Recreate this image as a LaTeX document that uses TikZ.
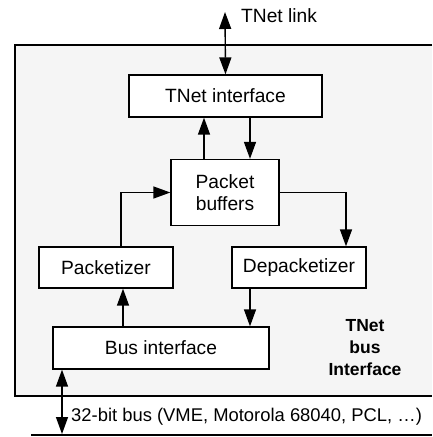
\documentclass[tikz,border=0pt]{standalone}
\usepackage{fontspec}
\setmainfont{Liberation Sans}
\usetikzlibrary{arrows.meta}
\begin{document}
\begin{tikzpicture}[x=1pt,y=-1pt,
  every node/.style={font=\fontsize{19.2}{22}\selectfont},
  blk/.style={draw=black,line width=1.3pt,fill=white,inner sep=0pt,align=center},
  conn/.style={line width=1.4pt,-{Triangle[length=17pt,width=12pt]}},
  dconn/.style={line width=1.4pt,{Triangle[length=17pt,width=12pt]}-{Triangle[length=17pt,width=12pt]}},
  lbl/.style={inner sep=0pt,align=center}]
\useasboundingbox (0,0) rectangle (432,437);
% frame
\fill[black!4] (15,45) rectangle (432,396);
\draw[line width=1.3pt] (432,45) -- (15,45) -- (15,396) -- (432,396);
% blocks
\node[blk,minimum width=193pt,minimum height=42pt] (tni) at (225.5,96) {TNet interface};
\node[blk,minimum width=108pt,minimum height=66pt] (pb) at (225,192.5) {Packet\\buffers};
\node[blk,minimum width=134pt,minimum height=41pt] (pk) at (106,267.5) {Packetizer};
\node[blk,minimum width=134pt,minimum height=41pt] (dp) at (299,267.5) {Depacketizer};
\node[blk,minimum width=216pt,minimum height=42pt] (bi) at (161,348) {Bus interface};
% labels
\coordinate (top) at (225,12);
\node[lbl,anchor=west] (tl) at (241,16) {TNet link};
\node[lbl,font=\fontsize{17.5}{22}\selectfont\bfseries] (tbi) at (365,348) {TNet\\bus\\Interface};
\coordinate (busend) at (62,434);
\node[lbl,anchor=west,font=\fontsize{18.4}{22}\selectfont] (busl) at (71,417) {32-bit bus (VME, Motorola 68040, PCL, \dots)};
\coordinate (busa) at (31,435);
\coordinate (busb) at (432,435);
% connectors
\draw[dconn] (top) -- (tni.north);
\draw[conn] (pb.north -| 204,0) -- (tni.south -| 204,0);
\draw[conn] (tni.south -| 250,0) -- (pb.north -| 250,0);
\draw[conn] (pk.north -| 121,0) |- (pb.west);
\draw[conn] (pb.east) -| (dp.north -| 346,0);
\draw[conn] (bi.north -| 123,0) -- (pk.south -| 123,0);
\draw[conn] (dp.south -| 250,0) -- (bi.north -| 250,0);
\draw[dconn] (bi.south -| busend) -- (busend);
\draw[line width=1.3pt] (busa) -- (busb);
\end{tikzpicture}
\end{document}
